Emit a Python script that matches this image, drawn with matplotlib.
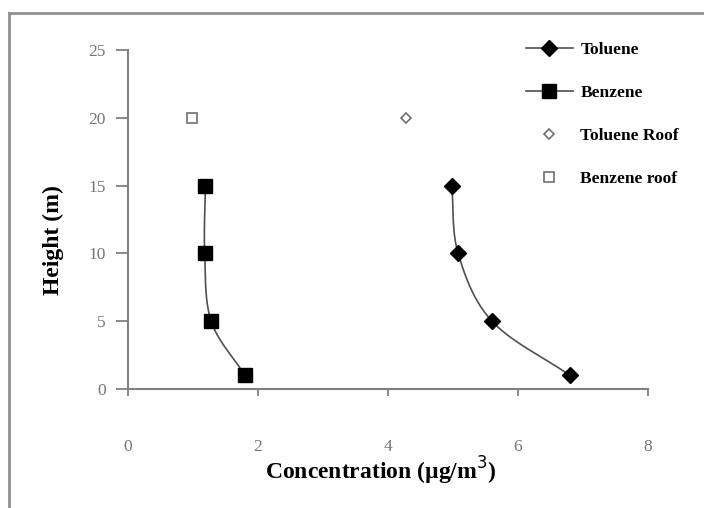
import numpy as np
import matplotlib
matplotlib.use("Agg")
import matplotlib.pyplot as plt
from matplotlib.lines import Line2D

# ---- data ----
height = [1, 5, 10, 15]
toluene = [6.8, 5.6, 5.08, 4.98]
benzene = [1.8, 1.28, 1.18, 1.19]
roof_height = [20]
toluene_roof = [4.28]
benzene_roof = [0.99]
xticks = [0, 2, 4, 6, 8]
yticks = [0, 5, 10, 15, 20, 25]

plt.rcParams['font.family'] = ['Liberation Serif', 'DejaVu Serif']

def smooth(xs, ys, n=30):
    # Catmull-Rom spline through the points (Excel-style smoothed line)
    P = np.column_stack([xs, ys]).astype(float)
    P = np.vstack([2 * P[0] - P[1], P, 2 * P[-1] - P[-2]])
    out = []
    t = np.linspace(0, 1, n)[:, None]
    for i in range(1, len(P) - 2):
        p0, p1, p2, p3 = P[i - 1], P[i], P[i + 1], P[i + 2]
        seg = 0.5 * ((2 * p1) + (-p0 + p2) * t + (2 * p0 - 5 * p1 + 4 * p2 - p3) * t ** 2
                     + (-p0 + 3 * p1 - 3 * p2 + p3) * t ** 3)
        out.append(seg)
    s = np.vstack(out)
    return s[:, 0], s[:, 1]

fig = plt.figure(figsize=(7.04, 5.08), dpi=100)
ax = fig.add_axes([128 / 704, 1 - 389 / 508, (648 - 128) / 704, (389 - 50) / 508])

line_col = '#505050'
sx, sy = smooth(toluene, height)
ax.plot(sx, sy, color=line_col, lw=1.2, zorder=2)
ax.plot(toluene, height, linestyle='none', marker='D', ms=8.5, color='black', zorder=3)
sx, sy = smooth(benzene, height)
ax.plot(sx, sy, color=line_col, lw=1.2, zorder=2)
ax.plot(benzene, height, linestyle='none', marker='s', ms=10.5, color='black', zorder=3)
ax.plot(toluene_roof, roof_height, linestyle='none', marker='D', ms=5.5, mfc='white',
        mec='#707070', mew=1.2, zorder=3)
ax.plot(benzene_roof, roof_height, linestyle='none', marker='s', ms=7, mfc='white',
        mec='#707070', mew=1.2, zorder=3)

ax.set_xlim(0, 8)
ax.set_ylim(0, 25)
ax.set_xticks(xticks)
ax.set_yticks(yticks)
ax.set_xticklabels([str(v) for v in xticks])
ax.set_yticklabels([str(v) for v in yticks])

for s in ['top', 'right']:
    ax.spines[s].set_visible(False)
for s in ['left', 'bottom']:
    ax.spines[s].set_color('#808080')
    ax.spines[s].set_linewidth(1.5)
ax.tick_params(axis='y', direction='out', length=9, width=1.3, color='#808080',
               labelsize=12.5, labelcolor='#777777', pad=7)
ax.tick_params(axis='x', direction='out', length=5, width=1.3, color='#808080',
               labelsize=12.5, labelcolor='#777777', pad=31)

fig.text(381 / 704, 1 - 471 / 508, 'Concentration (\u00b5g/m$^{3}$)', ha='center', va='center',
         fontsize=17, fontweight='bold')
fig.text(53 / 704, 1 - 240 / 508, 'Height (m)', ha='center', va='center', rotation=90,
         fontsize=17, fontweight='bold')

handles = [
    Line2D([], [], color=line_col, lw=1.2, marker='D', ms=8.5, mfc='black', mec='black'),
    Line2D([], [], color=line_col, lw=1.2, marker='s', ms=10.5, mfc='black', mec='black'),
    Line2D([], [], linestyle='none', marker='D', ms=5.5, mfc='white', mec='#707070', mew=1.2),
    Line2D([], [], linestyle='none', marker='s', ms=7, mfc='white', mec='#707070', mew=1.2),
]
labels = ['Toluene', 'Benzene', 'Toluene Roof', 'Benzene roof']
leg = fig.legend(handles, labels, loc='upper left', bbox_to_anchor=(510 / 704, 1 - 26 / 508),
                 frameon=False, prop={'family': 'Liberation Serif', 'weight': 'bold', 'size': 12.5},
                 handlelength=2.7, handletextpad=0.45, labelspacing=1.56)

# outer border (top and left edges visible)
fig.add_artist(Line2D([9 / 704, 9 / 704], [0, 1 - 13 / 508], transform=fig.transFigure,
                      color='#909090', lw=2))
fig.add_artist(Line2D([9 / 704, 1], [1 - 13 / 508, 1 - 13 / 508], transform=fig.transFigure,
                      color='#909090', lw=2))

fig.savefig('out.png', dpi=100)
